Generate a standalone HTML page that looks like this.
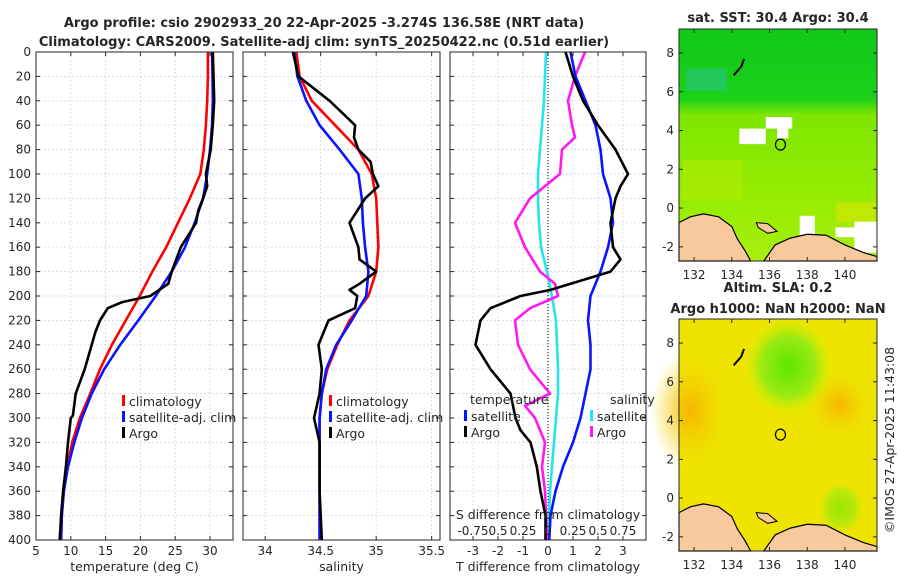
<!DOCTYPE html>
<html><head><meta charset="utf-8"><style>
body{margin:0;background:#fff}
svg{display:block;font-family:"DejaVu Sans","Liberation Sans",sans-serif}
text{fill:#262626}
</style></head><body>
<svg id="c" width="900" height="580" viewBox="0 0 900 580" xmlns="http://www.w3.org/2000/svg">
<defs>
<linearGradient id="sstg" x1="0" y1="0" x2="0" y2="1">
<stop offset="0" stop-color="#10c818"/><stop offset="0.3" stop-color="#1ad21a"/><stop offset="0.37" stop-color="#7ee600"/><stop offset="0.7" stop-color="#94ec00"/><stop offset="1" stop-color="#a8ee10"/></linearGradient>
<radialGradient id="slag1" cx="0.5" cy="0.5" r="0.5"><stop offset="0" stop-color="#5ee800"/><stop offset="0.6" stop-color="#9aea10"/><stop offset="1" stop-color="#d8f000" stop-opacity="0"/></radialGradient>
<radialGradient id="slag2" cx="0.5" cy="0.5" r="0.5"><stop offset="0" stop-color="#f6b400"/><stop offset="1" stop-color="#f2d800" stop-opacity="0"/></radialGradient>
<clipPath id="cp1"><rect x="36" y="52" width="197" height="488"/></clipPath>
<clipPath id="cp2"><rect x="243" y="52" width="197" height="488"/></clipPath>
<clipPath id="cp3"><rect x="450" y="52" width="196" height="488"/></clipPath>
<clipPath id="cpm1"><rect x="679" y="29" width="198" height="232"/></clipPath>
<clipPath id="cpm2"><rect x="679" y="319" width="198" height="232"/></clipPath>
</defs>
<text x="324" y="27" text-anchor="middle" font-weight="bold" font-size="13">Argo profile: csio 2902933_20 22-Apr-2025 -3.274S 136.58E (NRT data)</text>
<text x="324" y="46" text-anchor="middle" font-weight="bold" font-size="13">Climatology: CARS2009. Satellite-adj clim: synTS_20250422.nc (0.51d earlier)</text>
<g id="maps"></g>
<text transform="translate(894,440) rotate(-90)" text-anchor="middle" font-size="12.5">©IMOS 27-Apr-2025 11:43:08</text>
</svg>
<script>
const depths=[0,20,40,60,80,100,120,140,160,180,200,220,240,260,280,300,320,340,360,380,400];
// temperature (deg C)
const tClim=[29.7,29.7,29.6,29.4,29.1,28.6,27.1,25.4,23.7,21.7,19.9,17.9,15.9,14.2,12.8,11.3,10.2,9.5,9.0,8.7,8.6];
const tSat=[30.3,30.35,30.4,30.3,30.0,29.6,29.0,27.8,26.4,24.5,22.2,19.7,17.1,14.8,13.0,11.6,10.5,9.6,9.0,8.7,8.6];
const argoDepths=[0,20,40,60,80,100,110,120,130,140,160,180,190,200,205,210,220,230,240,260,280,298,300,320,340,360,380,400];
const tArgo=[30.4,30.5,30.6,30.4,30.1,29.4,29.6,29.0,28.3,28.0,25.8,24.5,24.0,21.4,17.4,15.3,14.2,13.5,13.0,12.0,10.7,10.3,10.0,9.6,9.3,8.9,8.6,8.4];
// salinity
const sClim=[34.28,34.31,34.42,34.63,34.84,34.96,35.0,35.01,35.02,35.0,34.93,34.76,34.65,34.56,34.51,34.49,34.49,34.49,34.49,34.49,34.49];
const sSat=[34.26,34.29,34.37,34.49,34.67,34.84,34.87,34.88,34.90,34.93,34.91,34.78,34.64,34.55,34.51,34.49,34.49,34.49,34.49,34.49,34.49];
const sArgoDepths=[0,20,40,60,70,80,90,100,110,120,140,160,170,180,190,195,200,210,220,240,260,280,300,320,360,400];
const sArgo=[34.25,34.30,34.58,34.81,34.80,34.84,34.95,34.97,35.02,34.90,34.76,34.84,34.85,35.0,34.85,34.76,34.83,34.81,34.57,34.48,34.51,34.49,34.44,34.49,34.49,34.51];
// differences from climatology
const dTSat=[0.9,1.1,1.5,1.9,2.1,2.2,2.5,2.6,2.4,2.1,1.7,1.6,1.7,1.7,1.5,1.3,1.0,0.6,0.3,0.1,0.05];
const dTArgoDepths=[0,20,40,60,80,100,110,120,140,160,170,180,195,200,210,220,240,260,280,300,310,320,340,360,380,400];
const dTArgo=[0.7,1.0,1.4,2.0,2.7,3.2,2.9,2.7,2.5,2.6,2.9,2.5,0.1,-1.1,-2.3,-2.7,-2.9,-2.3,-1.5,-1.3,-1.1,-0.7,-0.45,-0.3,-0.1,-0.1];
const dSSat=[-0.02,-0.03,-0.04,-0.06,-0.08,-0.1,-0.1,-0.09,-0.07,-0.01,0.04,0.08,0.09,0.1,0.1,0.08,0.06,0.04,0.02,0.01,0.01];
const dSArgoDepths=[0,20,40,60,70,80,100,120,140,160,180,190,200,210,220,240,260,270,280,290,300,320,340,360,400];
const dSArgo=[0.37,0.27,0.2,0.24,0.27,0.14,0.12,-0.18,-0.33,-0.23,-0.08,0.07,0.1,-0.18,-0.33,-0.3,-0.18,-0.08,0.02,-0.23,-0.13,-0.03,-0.06,-0.03,-0.01];
const tTicks=[5,10,15,20,25,30];
const sTicks=[34,34.5,35,35.5];
const dTicks=[-3,-2,-1,0,1,2,3];
const sDiffTickLabels=["-0.75","0.5","0.25","0","0.25","0.5","0.75"];
const zTicks=[0,20,40,60,80,100,120,140,160,180,200,220,240,260,280,300,320,340,360,380,400];
const latTicks=[-2,0,2,4,6,8];
const lonTicks=[132,134,136,138,140];
const floatLon=136.58, floatLat=3.274;

const NS="http://www.w3.org/2000/svg";
const svg=document.getElementById('c');
function mk(tag,attrs,parent){const e=document.createElementNS(NS,tag);for(const k in attrs)e.setAttribute(k,attrs[k]);(parent||svg).appendChild(e);return e;}
const yTop=52,yBot=540;
const yS=d=>yTop+(d/400)*(yBot-yTop);
function panel(x0,w,dom,ticks,labelFmt,xlabel,name){
  const g=mk('g',{});
  
  
  const xS=v=>x0+(v-dom[0])/(dom[1]-dom[0])*w;
  for(const d of zTicks){mk('line',{x1:x0,x2:x0+w,y1:yS(d),y2:yS(d),stroke:'#c8cde6','stroke-width':0.7,'stroke-dasharray':'2,2'},g);}
  for(const t of ticks){mk('line',{x1:xS(t),x2:xS(t),y1:yTop,y2:yBot,stroke:'#c8cde6','stroke-width':0.7,'stroke-dasharray':'2,2'},g);
    mk('line',{x1:xS(t),x2:xS(t),y1:yBot,y2:yBot-4,stroke:'#262626'},g);mk('line',{x1:xS(t),x2:xS(t),y1:yTop,y2:yTop+4,stroke:'#262626'},g);
    const tx=mk('text',{x:xS(t),y:555,'text-anchor':'middle','font-size':12},g);tx.textContent=labelFmt(t);}
  for(const d of zTicks){mk('line',{x1:x0,x2:x0+4,y1:yS(d),y2:yS(d),stroke:'#262626'},g);mk('line',{x1:x0+w,x2:x0+w-4,y1:yS(d),y2:yS(d),stroke:'#262626'},g);}
  const xl=mk('text',{x:x0+w/2,y:571,'text-anchor':'middle','font-size':12.5},g);xl.textContent=xlabel;
  return {g,xS};
}
function line(g,xS,ds,vs,color,clip,name){
  const p=mk('polyline',{points:ds.map((d,i)=>xS(vs[i]).toFixed(1)+','+yS(d).toFixed(1)).join(' '),fill:'none',stroke:color,'stroke-width':2.6,'stroke-linejoin':'round','clip-path':clip},g);
  
  
}
function frame(g,x0,w){mk('rect',{x:x0,y:yTop,width:w,height:yBot-yTop,fill:'none',stroke:'#262626','stroke-width':1},g);}
function legend(g,x,y,items){items.forEach((it,i)=>{mk('rect',{x:x,y:y+i*16-11,width:3,height:11,fill:it[1]},g);const t=mk('text',{x:x+7,y:y+i*16,'font-size':12.5},g);t.textContent=it[0];});}

const P1=panel(36,197,[5,33.3],tTicks,v=>v,'temperature (deg C)','temperature-panel');
for(const d of zTicks){const t=mk('text',{x:31,y:yS(d)+4,'text-anchor':'end','font-size':12},P1.g);t.textContent=d;}
line(P1.g,P1.xS,depths,tClim,'#ff0000','url(#cp1)','temp-climatology-line');
line(P1.g,P1.xS,depths,tSat,'#0a14ff','url(#cp1)','temp-satellite-line');
line(P1.g,P1.xS,argoDepths,tArgo,'#000','url(#cp1)','temp-argo-line');
legend(P1.g,122,406,[['climatology','#ff0000'],['satellite-adj. clim','#0a14ff'],['Argo','#000']]);
frame(P1.g,36,197);
const P2=panel(243,197,[33.8,35.575],sTicks,v=>v,'salinity','salinity-panel');
line(P2.g,P2.xS,depths,sClim,'#ff0000','url(#cp2)','sal-climatology-line');
line(P2.g,P2.xS,depths,sSat,'#0a14ff','url(#cp2)','sal-satellite-line');
line(P2.g,P2.xS,sArgoDepths,sArgo,'#000','url(#cp2)','sal-argo-line');
legend(P2.g,329,406,[['climatology','#ff0000'],['satellite-adj. clim','#0a14ff'],['Argo','#000']]);
frame(P2.g,243,197);
const P3=panel(450,196,[-3.92,3.92],dTicks,v=>v,'T difference from climatology','difference-panel');
mk('line',{x1:P3.xS(0),x2:P3.xS(0),y1:yTop,y2:yBot,stroke:'#000','stroke-width':1,'stroke-dasharray':'1,2'},P3.g);
const s4=a=>a.map(v=>v*4);
line(P3.g,P3.xS,depths,s4(dSSat),'#22e6ee','url(#cp3)','sdiff-satellite-line');
line(P3.g,P3.xS,dSArgoDepths,s4(dSArgo),'#ff18f0','url(#cp3)','sdiff-argo-line');
line(P3.g,P3.xS,depths,dTSat,'#0a14ff','url(#cp3)','tdiff-satellite-line');
line(P3.g,P3.xS,dTArgoDepths,dTArgo,'#000','url(#cp3)','tdiff-argo-line');
let t=mk('text',{x:470,y:404,'font-size':12.5},P3.g);t.textContent='temperature';
t=mk('text',{x:610,y:404,'font-size':12.5},P3.g);t.textContent='salinity';
legend(P3.g,464,421,[['satellite','#0a14ff'],['Argo','#000']]);
legend(P3.g,590,421,[['satellite','#22e6ee'],['Argo','#ff18f0']]);
t=mk('text',{x:548,y:519,'text-anchor':'middle','font-size':12.5},P3.g);t.textContent='S difference from climatology';
sDiffTickLabels.forEach((l,i)=>{const tt=mk('text',{x:P3.xS(dTicks[i]),y:535,'text-anchor':'middle','font-size':12},P3.g);tt.textContent=l;});
frame(P3.g,450,196);

const mx0=679,mw=198,lon0=131.2,lon1=141.7,lat0=-2.73,lat1=9.24;
function mapPanel(y0,name,bg){
  const g=mk('g',{},document.getElementById('maps'));
  
  
  const xS=lo=>mx0+(lo-lon0)/(lon1-lon0)*mw;
  const yM=la=>y0+232-(la-lat0)/(lat1-lat0)*232;
  bg(g,xS,yM);
  const land=[[131.2,-0.75],[131.8,-0.45],[132.5,-0.3],[133.3,-0.45],[134,-0.95],[134.3,-1.6],[134.7,-2.2],[135,-2.73],[131.2,-2.73]];
  mk('polygon',{points:land.map(p=>xS(p[0])+','+yM(p[1])).join(' '),fill:'#f7c99c',stroke:'#000','stroke-width':1.2},g);
  const land2=[[135.7,-2.73],[136.3,-1.9],[137.1,-1.55],[138,-1.35],[139,-1.4],[140,-1.9],[141,-2.3],[141.7,-2.5],[141.7,-2.73]];
  mk('polygon',{points:land2.map(p=>xS(p[0])+','+yM(p[1])).join(' '),fill:'#f7c99c',stroke:'#000','stroke-width':1.2},g);
  const isl=[[135.3,-0.75],[135.9,-0.8],[136.4,-1.2],[135.9,-1.3],[135.4,-1.0]];
  mk('polygon',{points:isl.map(p=>xS(p[0])+','+yM(p[1])).join(' '),fill:'#f7c99c',stroke:'#000','stroke-width':1},g);
  mk('polyline',{points:[[134.1,6.85],[134.5,7.3],[134.65,7.7]].map(p=>xS(p[0])+','+yM(p[1])).join(' '),fill:'none',stroke:'#000','stroke-width':2},g);
  mk('ellipse',{cx:xS(floatLon),cy:yM(floatLat),rx:5,ry:5.5,fill:'none',stroke:'#000','stroke-width':1.2},g);
  mk('rect',{x:mx0,y:y0,width:mw,height:232,fill:'none',stroke:'#262626','stroke-width':1},g);
  for(const la of latTicks){mk('line',{x1:mx0,x2:mx0+4,y1:yM(la),y2:yM(la),stroke:'#262626'},g);mk('line',{x1:mx0+mw,x2:mx0+mw-4,y1:yM(la),y2:yM(la),stroke:'#262626'},g);
    const tx=mk('text',{x:mx0-5,y:yM(la)+4,'text-anchor':'end','font-size':12},g);tx.textContent=la;}
  for(const lo of lonTicks){mk('line',{x1:xS(lo),x2:xS(lo),y1:y0+232,y2:y0+228,stroke:'#262626'},g);mk('line',{x1:xS(lo),x2:xS(lo),y1:y0,y2:y0+4,stroke:'#262626'},g);
    const tx=mk('text',{x:xS(lo),y:y0+250,'text-anchor':'middle','font-size':12},g);tx.textContent=lo;}
  return g;
}
mapPanel(29,'sst-map',(g,xS,yM)=>{
  mk('rect',{x:mx0,y:29,width:mw,height:232,fill:'url(#sstg)','clip-path':'url(#cpm1)'},g);
  mk('rect',{x:xS(131.6),y:yM(7.2),width:40,height:22,fill:'#2cbfa0',opacity:0.5},g);
  mk('rect',{x:xS(131.4),y:yM(2.5),width:60,height:40,fill:'#b4ec00',opacity:0.5},g);
  mk('rect',{x:xS(139.5),y:yM(0.3),width:40,height:20,fill:'#d8e400',opacity:0.6},g);
  [[135.8,4.7,1.4,0.6],[136.4,4.2,0.6,0.6],[134.4,4.1,1.4,0.8],[137.6,-0.4,0.8,1.0],[140.5,-0.7,1.2,1.6],[139.5,-1.0,1,0.5]].forEach(r=>mk('rect',{x:xS(r[0]),y:yM(r[1]),width:r[2]*18.9,height:r[3]*19.4,fill:'#fff'},g));
});
mapPanel(319,'sla-map',(g,xS,yM)=>{
  mk('rect',{x:mx0,y:319,width:mw,height:232,fill:'#eee400'},g);
  mk('ellipse',{cx:xS(131.8),cy:yM(4.5),rx:40,ry:60,fill:'url(#slag2)'},g);
  mk('ellipse',{cx:xS(139.7),cy:yM(4.8),rx:34,ry:34,fill:'url(#slag2)'},g);
  mk('ellipse',{cx:xS(137),cy:yM(6.8),rx:45,ry:50,fill:'url(#slag1)'},g);
  mk('ellipse',{cx:xS(139.8),cy:yM(-0.5),rx:24,ry:28,fill:'url(#slag1)',opacity:0.6},g);
});
let mt=mk('text',{x:778,y:22,'text-anchor':'middle','font-weight':'bold','font-size':13});
mt.textContent='sat. SST: 30.4 Argo: 30.4';
mt=mk('text',{x:778,y:292,'text-anchor':'middle','font-weight':'bold','font-size':13});
mt.textContent='Altim. SLA: 0.2';
mt=mk('text',{x:778,y:313,'text-anchor':'middle','font-weight':'bold','font-size':13});
mt.textContent='Argo h1000: NaN h2000: NaN';
</script>
</body></html>
